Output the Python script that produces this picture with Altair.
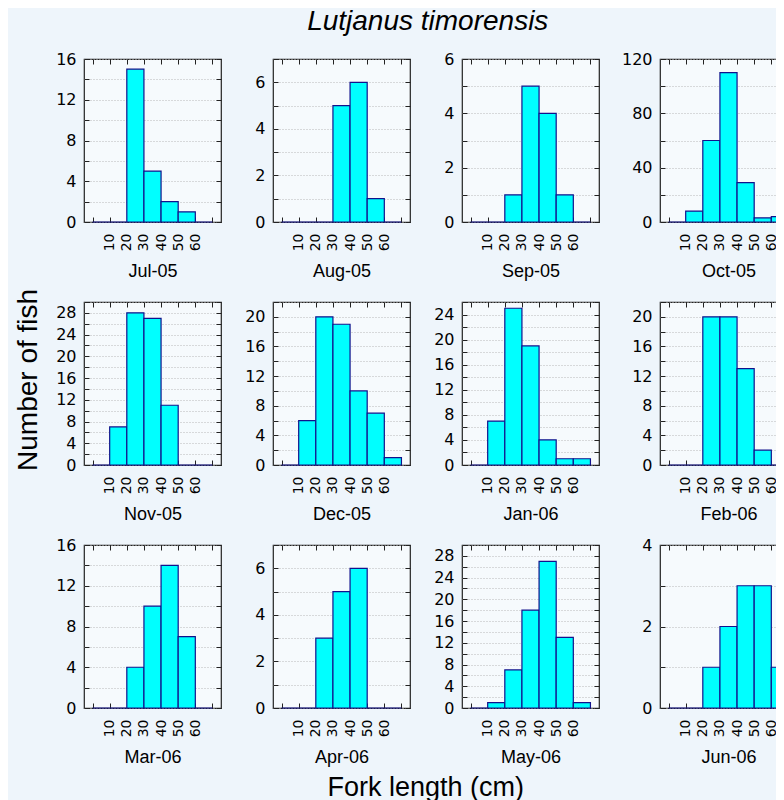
import altair as alt
import pandas as pd

months = ["Jul-05", "Aug-05", "Sep-05", "Oct-05",
          "Nov-05", "Dec-05", "Jan-06", "Feb-06",
          "Mar-06", "Apr-06", "May-06", "Jun-06"]
bin_starts = [0, 10, 20, 30, 40, 50, 60]
bin_ends = [10, 20, 30, 40, 50, 60, 70]
x_ticks = [0, 10, 20, 30, 40, 50, 60, 70]

jul_05 = [0, 0, 15, 5, 2, 1, 0]
aug_05 = [0, 0, 0, 5, 6, 1, 0]
sep_05 = [0, 0, 1, 5, 4, 1, 0]
oct_05 = [0, 8, 60, 110, 29, 3, 4]
nov_05 = [0, 7, 28, 27, 11, 0, 0]
dec_05 = [0, 6, 20, 19, 10, 7, 1]
jan_06 = [0, 7, 25, 19, 4, 1, 1]
feb_06 = [0, 0, 20, 20, 13, 2, 0]
mar_06 = [0, 0, 4, 10, 14, 7, 0]
apr_06 = [0, 0, 3, 5, 6, 0, 0]
may_06 = [0, 1, 7, 18, 27, 13, 1]
jun_06 = [0, 0, 1, 2, 3, 3, 1]
all_counts = [jul_05, aug_05, sep_05, oct_05, nov_05, dec_05,
              jan_06, feb_06, mar_06, apr_06, may_06, jun_06]

y_max = [16, 7, 6, 120, 30, 22, 26, 22, 16, 7, 30, 4]
y_tick_step = [2, 1, 1, 20, 2, 2, 2, 2, 2, 1, 2, 1]
y_label_step = [4, 2, 2, 40, 4, 4, 4, 4, 4, 2, 4, 2]

BAR_FILL = "#00ffff"
BAR_STROKE = "#12128c"
FRAME = "#222222"


def panel(i):
    col = i % 4
    df = pd.DataFrame({"start": bin_starts, "end": bin_ends, "count": all_counts[i]})
    yvals = list(range(0, y_max[i] + 1, y_tick_step[i]))
    xs = alt.Scale(domain=[-5, 75], nice=False, zero=False)
    ys = alt.Scale(domain=[0, y_max[i]], nice=False)
    left_ext = 44 if col == 3 else 35
    base = alt.Chart(df)
    bars = base.mark_bar(fill=BAR_FILL, stroke=BAR_STROKE, strokeWidth=1.2).encode(
        x=alt.X("start:Q", scale=xs,
                axis=alt.Axis(values=x_ticks,
                              labelExpr="datum.value >= 10 && datum.value <= 60 ? datum.label : ''",
                              labelAngle=270, labelAlign="right", labelBaseline="middle",
                              labelFont="DejaVu Sans", labelFontSize=14, labelPadding=11,
                              offset=-5, tickSize=5, domain=False, grid=False,
                              title=months[i], titlePadding=12)),
        x2="end:Q",
        y=alt.Y("count:Q", scale=ys,
                axis=alt.Axis(values=yvals,
                              labelExpr=f"datum.value % {y_label_step[i]} === 0 ? datum.label : ''",
                              labelFont="DejaVu Sans", labelFontSize=16, labelPadding=8,
                              offset=-5, tickSize=5, domain=False, grid=True,
                              minExtent=left_ext, title=None)),
        y2=alt.datum(0),
    )
    mirror = base.mark_point(opacity=0).encode(
        x=alt.X("start:Q", scale=xs,
                axis=alt.Axis(orient="top", values=x_ticks, labels=False, offset=-5,
                              tickSize=5, domain=False, grid=False, title=None,
                              minExtent=15, maxExtent=15)),
        y=alt.Y("count:Q", scale=ys,
                axis=alt.Axis(orient="right", values=yvals, labels=False, offset=-5,
                              tickSize=5, domain=False, grid=False, title=None,
                              minExtent=0, maxExtent=0)),
    )
    return alt.layer(bars, mirror).resolve_axis(x="independent", y="independent").properties(
        width=137, height=163)


panels = [panel(i) for i in range(12)]

inner = alt.concat(
    *panels, columns=4, spacing=alt.RowColnumber(row=9, column=19),
    title=alt.TitleParams("Fork length (cm)", orient="bottom", anchor="middle",
                          font="Liberation Sans", fontSize=27, fontWeight="normal",
                          color="black", offset=8),
)
mid = alt.vconcat(
    inner,
    title=alt.TitleParams("Number of fish", orient="left", anchor="middle",
                          font="Liberation Sans", fontSize=28, fontWeight="normal",
                          color="black", offset=10, dx=45),
)
chart = alt.vconcat(
    mid,
    title=alt.TitleParams("Lutjanus timorensis", anchor="middle",
                          font="Liberation Sans", fontSize=28, fontWeight="normal",
                          fontStyle="italic", color="black", offset=12, dx=21),
).properties(
    autosize=alt.AutoSizeParams(type="none"),
    padding={"left": 76, "top": 51, "right": 692, "bottom": 741},
    background="#eef5fb",
).configure_view(
    stroke=FRAME, strokeWidth=1.2, fill="#f6fafd",
).configure_axis(
    labelColor="black", tickColor=FRAME, tickWidth=1,
    gridColor="#b8b8b8", gridDash=[1, 2], gridWidth=1,
    titleFont="Liberation Sans", titleFontSize=18, titleFontWeight="normal",
    titleColor="black",
)

chart.save("out.html", embed_options={"renderer": "svg", "actions": False})
